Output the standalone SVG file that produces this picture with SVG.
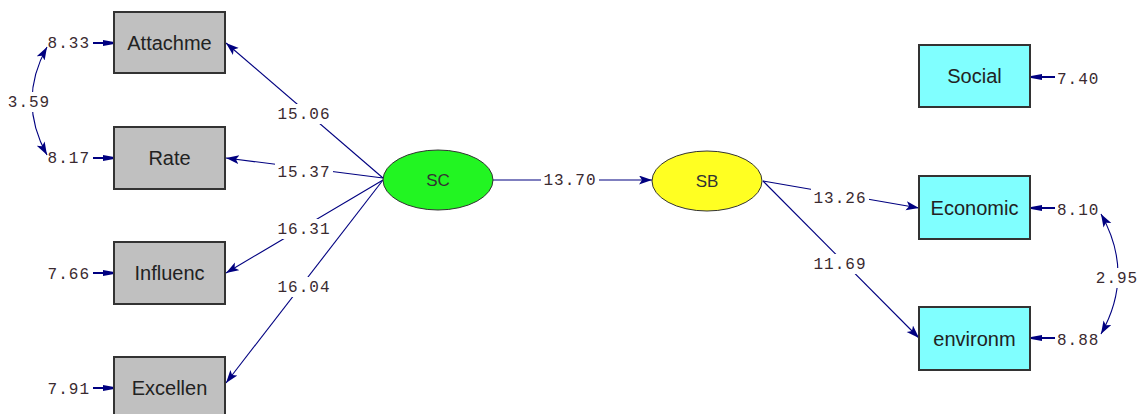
<svg xmlns="http://www.w3.org/2000/svg" width="1139" height="414" viewBox="0 0 1139 414">
<style>
.obs{stroke:#333;stroke-width:2}
.grey{fill:#c0c0c0}
.cyan{fill:#80ffff}
.lat{stroke:#333;stroke-width:1}
.nl{font-family:"Liberation Sans",Arial,sans-serif;font-size:20px;fill:#222;text-anchor:middle}
.ll{font-family:"Liberation Sans",Arial,sans-serif;font-size:17px;fill:#333;text-anchor:middle}
.c{stroke:#000080;stroke-width:1.1;fill:none}
.e{stroke:#000080;stroke-width:2;fill:none}
.v{font-family:"Liberation Mono","Courier New",monospace;font-size:16px;letter-spacing:1px;fill:#3a2a30}
.h{text-anchor:middle}
.bg{fill:#fff}
</style>
<defs>
<marker id="ah" markerUnits="userSpaceOnUse" markerWidth="15" markerHeight="10" refX="13" refY="4.5" orient="auto-start-reverse">
<path d="M0,0 L13,4.5 L0,9 L3,4.5 z" fill="#000080"/>
</marker>
<marker id="eh" markerUnits="userSpaceOnUse" markerWidth="12" markerHeight="8" refX="11" refY="3" orient="auto">
<path d="M0,0 L11,2 L11,4 L0,6 z" fill="#000080"/>
</marker>
</defs>
<rect width="1139" height="414" fill="#fff"/>

<g id="connectors">
<line class="c" x1="383" y1="178" x2="226" y2="43" marker-end="url(#ah)"/>
<line class="c" x1="383" y1="178" x2="226" y2="158" marker-end="url(#ah)"/>
<line class="c" x1="383" y1="180" x2="226" y2="273" marker-end="url(#ah)"/>
<line class="c" x1="383" y1="180" x2="226" y2="383" marker-end="url(#ah)"/>
<line class="c" x1="493" y1="180" x2="652" y2="180" marker-end="url(#ah)"/>
<line class="c" x1="763" y1="181" x2="919" y2="208" marker-end="url(#ah)"/>
<line class="c" x1="763" y1="181" x2="919" y2="338" marker-end="url(#ah)"/>
<line class="e" x1="93" y1="43" x2="114" y2="43" marker-end="url(#eh)"/>
<line class="e" x1="93" y1="158" x2="114" y2="158" marker-end="url(#eh)"/>
<line class="e" x1="93" y1="273" x2="114" y2="273" marker-end="url(#eh)"/>
<line class="e" x1="93" y1="388" x2="114" y2="388" marker-end="url(#eh)"/>
<line class="e" x1="1055" y1="77" x2="1031" y2="77" marker-end="url(#eh)"/>
<line class="e" x1="1055" y1="208" x2="1031" y2="208" marker-end="url(#eh)"/>
<line class="e" x1="1055" y1="338" x2="1031" y2="338" marker-end="url(#eh)"/>
<rect class="bg" x="275" y="104" width="58" height="20"/>
<rect class="bg" x="275" y="162" width="58" height="20"/>
<rect class="bg" x="275" y="219" width="58" height="20"/>
<rect class="bg" x="275" y="277" width="58" height="20"/>
<rect class="bg" x="541" y="170" width="58" height="20"/>
<rect class="bg" x="811" y="188" width="58" height="20"/>
<rect class="bg" x="811" y="254" width="58" height="20"/>
<text class="v h" x="304" y="119">15.06</text>
<text class="v h" x="304" y="177">15.37</text>
<text class="v h" x="304" y="234">16.31</text>
<text class="v h" x="304" y="292">16.04</text>
<text class="v h" x="570" y="185">13.70</text>
<text class="v h" x="840" y="203">13.26</text>
<text class="v h" x="840" y="269">11.69</text>
<text class="v" x="90" y="48" text-anchor="end">8.33</text>
<text class="v" x="90" y="163" text-anchor="end">8.17</text>
<text class="v" x="90" y="279" text-anchor="end">7.66</text>
<text class="v" x="90" y="394" text-anchor="end">7.91</text>
<text class="v" x="1057" y="84">7.40</text>
<text class="v" x="1057" y="215">8.10</text>
<text class="v" x="1057" y="345">8.88</text>
<path class="c" d="M47,47 Q17,101 47,155" marker-start="url(#ah)" marker-end="url(#ah)"/>
<path class="c" d="M1101,214 Q1135,274 1101,334" marker-start="url(#ah)" marker-end="url(#ah)"/>
<rect class="bg" x="6" y="92" width="46" height="20"/>
<rect class="bg" x="1095" y="268" width="44" height="20"/>
<text class="v h" x="29" y="107">3.59</text>
<text class="v h" x="1117" y="283">2.95</text>
</g>

<g id="Attachme"><rect class="obs grey" x="114" y="12" width="111" height="61"/><text class="nl" x="169.5" y="50">Attachme</text></g>
<g id="Rate"><rect class="obs grey" x="114" y="127" width="111" height="62"/><text class="nl" x="169.5" y="165">Rate</text></g>
<g id="Influenc"><rect class="obs grey" x="114" y="242" width="111" height="62"/><text class="nl" x="169.5" y="280">Influenc</text></g>
<g id="Excellen"><rect class="obs grey" x="114" y="357" width="111" height="62"/><text class="nl" x="169.5" y="395">Excellen</text></g>
<g id="SC"><ellipse class="lat" cx="438" cy="180" rx="55" ry="30" fill="#22f522"/><text class="ll" x="438" y="186">SC</text></g>
<g id="SB"><ellipse class="lat" cx="707" cy="181" rx="55" ry="30" fill="#ffff22"/><text class="ll" x="707" y="187">SB</text></g>
<g id="Social"><rect class="obs cyan" x="919" y="45" width="111" height="62"/><text class="nl" x="974.5" y="83">Social</text></g>
<g id="Economic"><rect class="obs cyan" x="919" y="176" width="111" height="63"/><text class="nl" x="974.5" y="215">Economic</text></g>
<g id="environm"><rect class="obs cyan" x="919" y="307" width="111" height="63"/><text class="nl" x="974.5" y="346">environm</text></g>
</svg>
